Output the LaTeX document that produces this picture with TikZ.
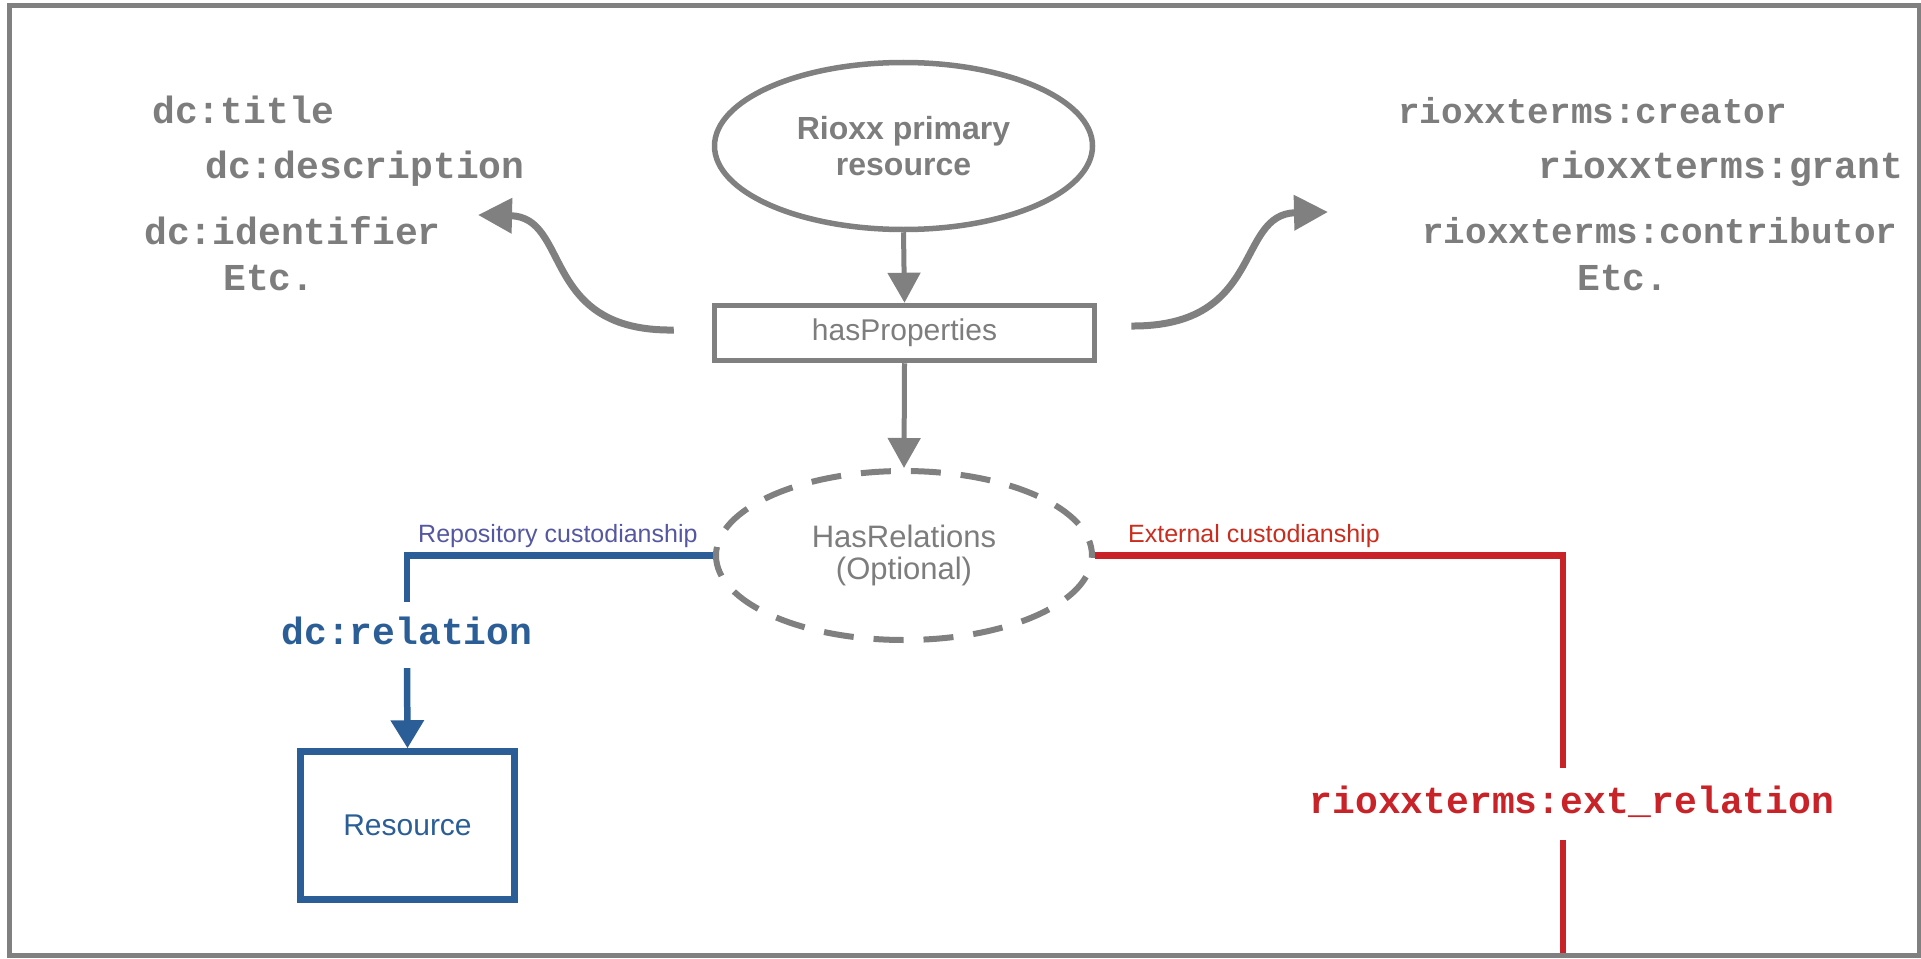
\documentclass[tikz,border=0pt]{standalone}
\usepackage{fontspec}
\setmainfont{Liberation Sans}
\newfontfamily\monofont{Liberation Mono}
\usetikzlibrary{arrows.meta,shapes.geometric}
\definecolor{lgray}{RGB}{128,128,128}
\definecolor{tgray}{RGB}{125,125,125}
\definecolor{dblue}{RGB}{43,94,150}
\definecolor{pblue}{RGB}{85,88,160}
\definecolor{dred}{RGB}{200,35,40}
\definecolor{tred}{RGB}{200,45,30}
\begin{document}
\begin{tikzpicture}[x=1pt,y=-1pt,
  gline/.style={draw=lgray, line width=5.5pt},
  monotext/.style={font=\monofont\bfseries\fontsize{38}{40}\selectfont, text=tgray, inner sep=0pt, anchor=base west},
  smallmono/.style={font=\monofont\bfseries\fontsize{36}{40}\selectfont},
  bigtip/.style={-{Triangle[length=30pt,width=32pt]}},
  curvtip/.style={-{Triangle[length=34pt,width=34pt]}},
  lbl/.style={anchor=base west, inner sep=0pt, font=\fontsize{25}{28}\selectfont},
  relname/.style={font=\monofont\bfseries\fontsize{38}{40}\selectfont, inner sep=0pt, text height=28pt, text depth=10pt}
]
\useasboundingbox (0,0) rectangle (1921,958);

% main nodes
\node[ellipse, gline, minimum width=378pt, minimum height=167pt, inner sep=0pt, text=tgray,
      font=\bfseries\fontsize{32}{36}\selectfont, align=center] (rx) at (903.5,146) {Rioxx primary\\resource};
\node[rectangle, gline, minimum width=380pt, minimum height=55pt, inner sep=0pt, text=tgray,
      font=\fontsize{30}{34}\selectfont] (hp) at (904.5,333) {hasProperties};
\node[ellipse, draw=lgray, line width=6pt, dash pattern=on 30pt off 20pt, dash phase=15pt,
      minimum width=376pt, minimum height=169pt, inner sep=0pt, text=tgray,
      font=\fontsize{31}{32}\selectfont, align=center] (hr) at (904,555.5) {HasRelations\\(Optional)};
\node[rectangle, draw=dblue, line width=6.5pt, minimum width=214pt, minimum height=148pt, inner sep=0pt,
      text=dblue, font=\fontsize{30}{34}\selectfont] (res) at (407.5,825.5) {Resource};
\node[relname, text=dblue, minimum height=66pt] (dcrel) at (407,635) {dc:relation};
\node[relname, text=dred, minimum height=72pt] (ext) at (1572,804) {rioxxterms:ext\_relation};

% property lists
\node[monotext] (t1) at (152,123) {dc:title};
\node[monotext] (t2) at (205,178) {dc:description};
\node[monotext] (t3) at (144,244) {dc:identifier};
\node[monotext] (t4) at (223,290) {Etc.};
\node[monotext, smallmono] (r1) at (1398,123) {rioxxterms:creator};
\node[monotext] (r2) at (1538,178) {rioxxterms:grant};
\node[monotext, smallmono] (r3) at (1422,243) {rioxxterms:contributor};
\node[monotext] (r4) at (1577,290) {Etc.};

% connector labels
\node[lbl, text=pblue] (rcl) at (418,542) {Repository custodianship};
\node[lbl, text=tred] (ecl) at (1128,542) {External custodianship};

% connectors
\draw[gline, line width=5pt, bigtip] (rx.south) -- (hp.north);
\draw[gline, line width=5pt, bigtip] (hp.south) -- (hr.north);

\coordinate (lt) at (478,215);
\coordinate (rt) at (1328,212);
\draw[gline, line width=7pt, curvtip] ([xshift=-38pt,yshift=3pt]hp.west) .. controls (540,332) and (571,217) .. (lt);
\draw[gline, line width=7pt, curvtip] ([xshift=34pt,yshift=7pt]hp.east) .. controls (1265,327) and (1235,214) .. (rt);

\draw[dblue, line width=6.5pt] (hr.west) -| (dcrel.north);
\draw[dblue, line width=6.5pt, -{Triangle[length=28pt,width=32pt]}] (dcrel.south) -- (res.north);

\coordinate (bot) at (1563,955);
\draw[dred, line width=6.5pt] (hr.east) -| ([xshift=-9pt]ext.north);
\draw[dred, line width=6.5pt] ([xshift=-9pt]ext.south) -- (bot);

% frame
\draw[lgray, line width=5pt] (9,5.5) rectangle (1919,955);
\end{tikzpicture}
\end{document}
